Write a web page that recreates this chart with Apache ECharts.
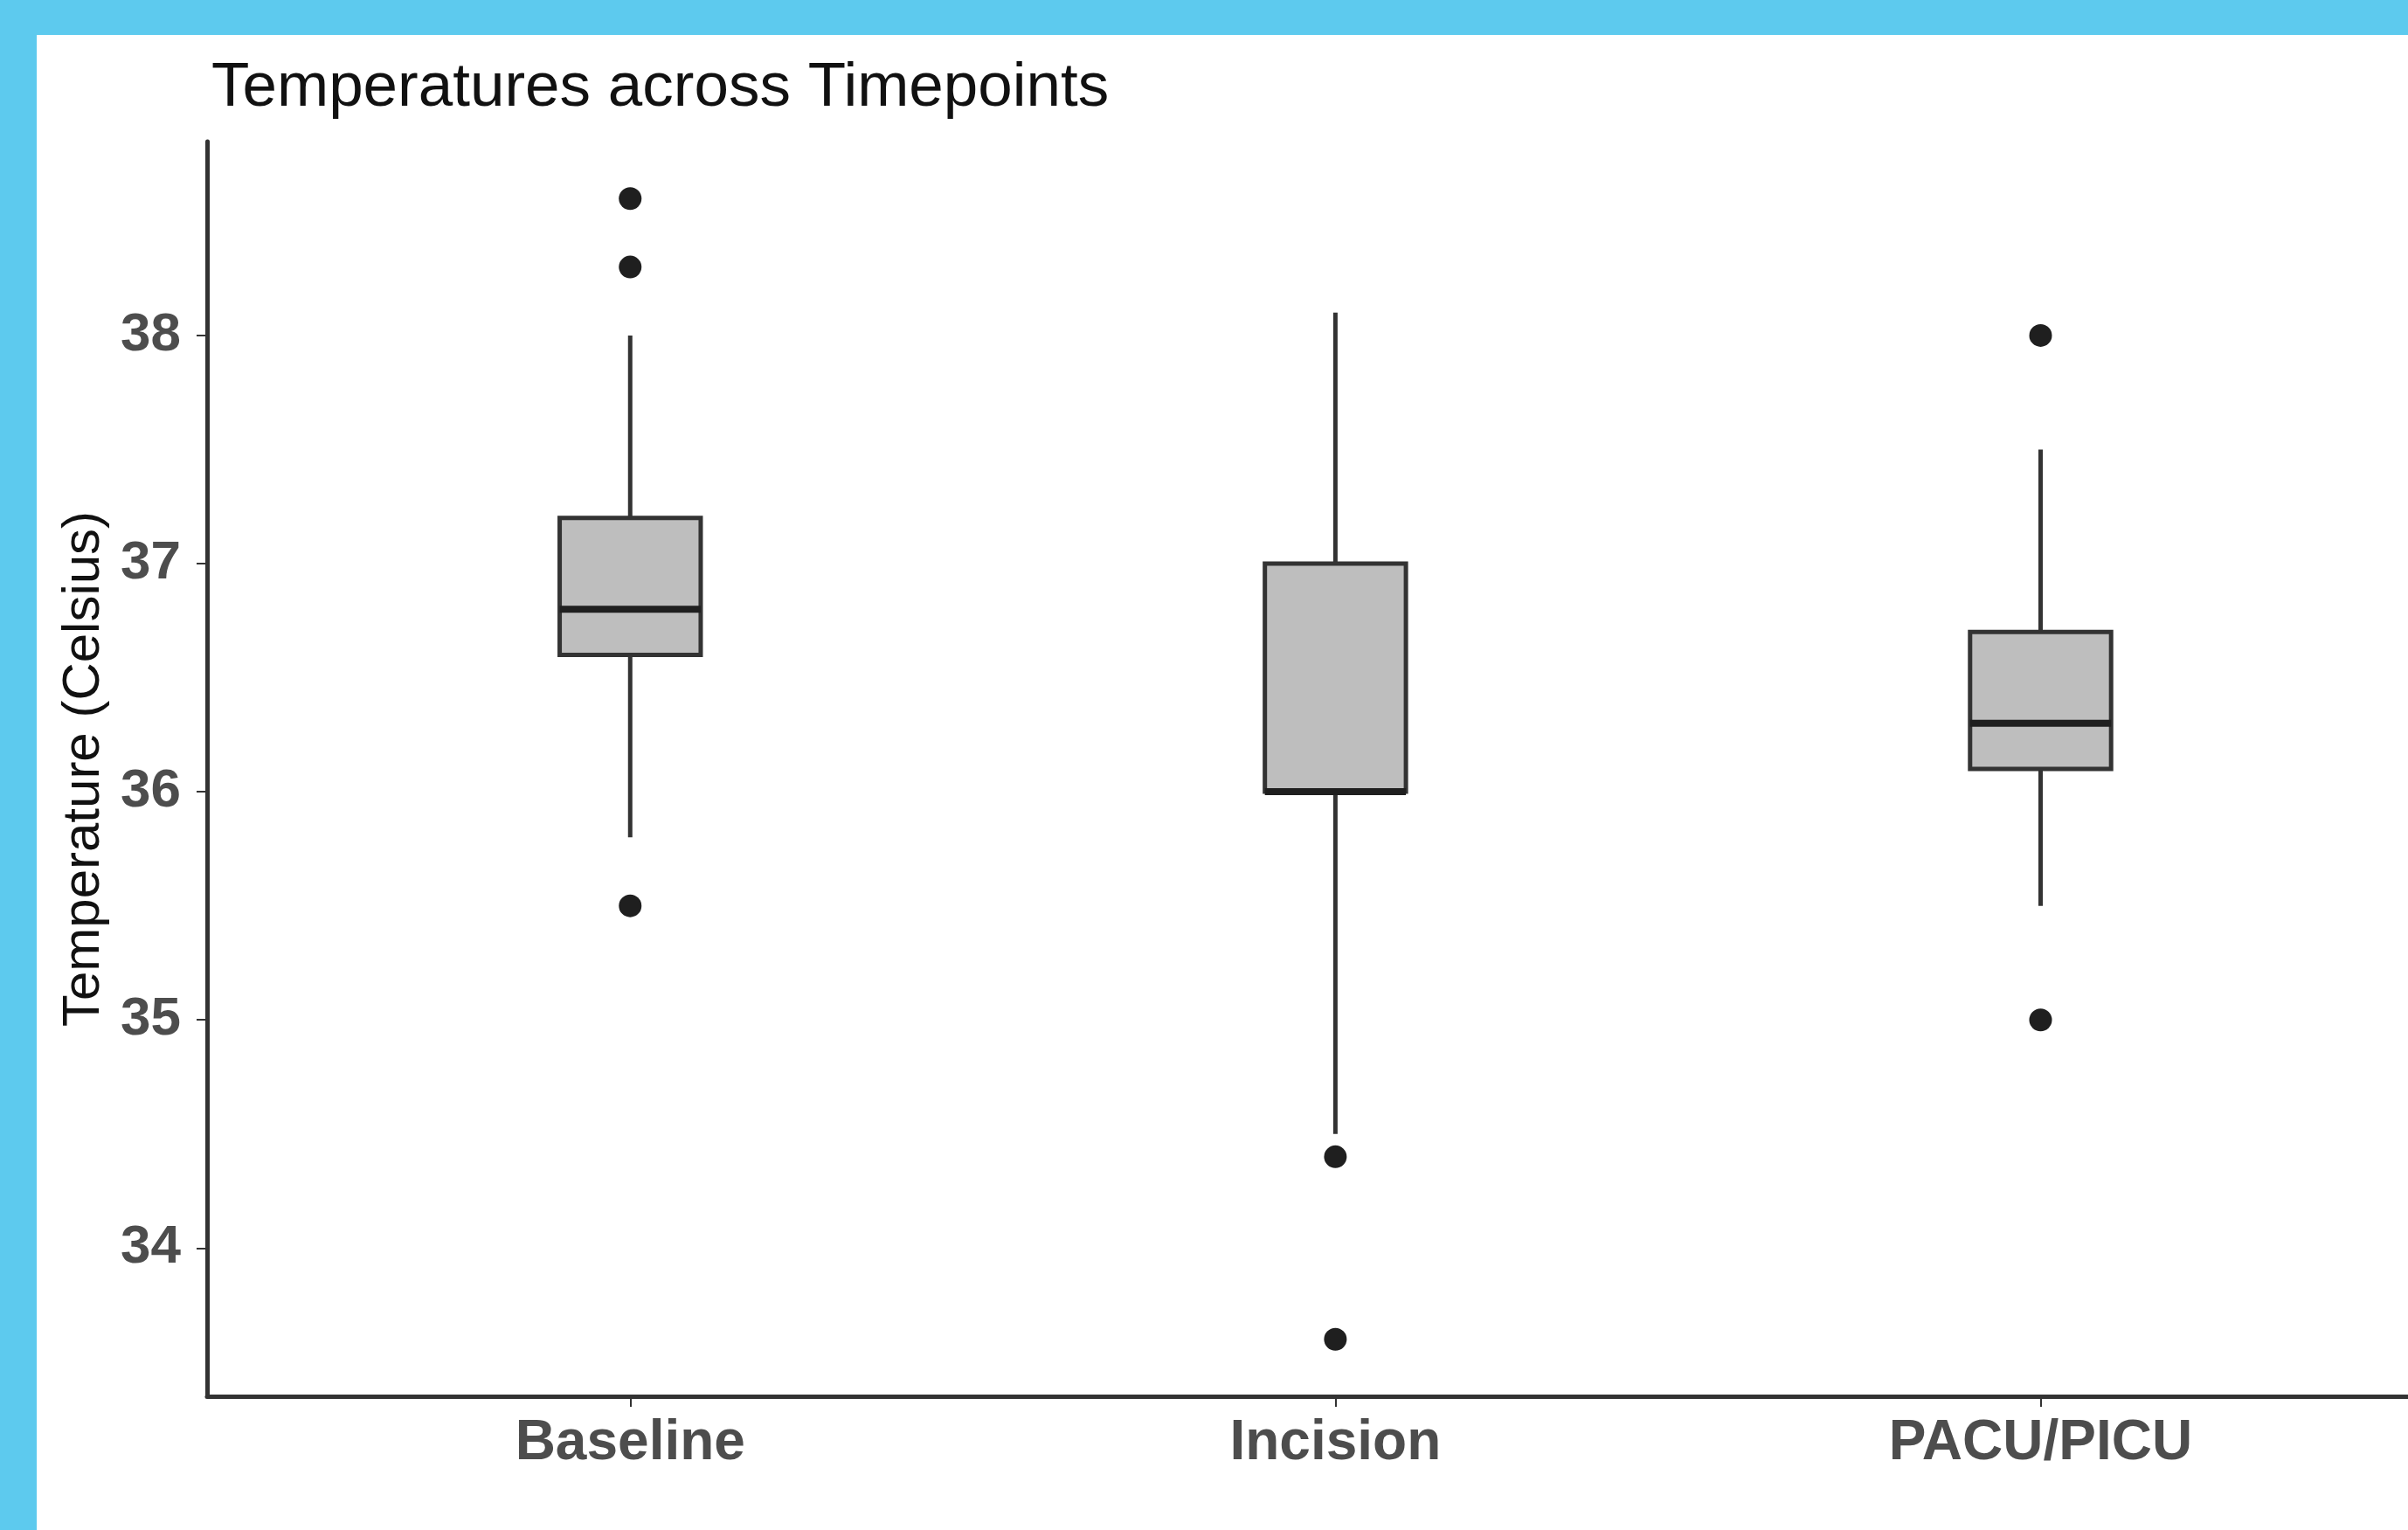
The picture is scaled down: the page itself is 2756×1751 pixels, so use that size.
<!DOCTYPE html>
<html>
<head>
<meta charset="utf-8">
<script src="https://cdn.jsdelivr.net/npm/echarts@6/dist/echarts.min.js"></script>
<style>
  html, body { margin: 0; padding: 0; width: 2756px; height: 1751px; background: #5DCAEE; overflow: hidden; }
  #chart { position: absolute; left: 42px; top: 40px; width: 2714px; height: 1711px; background: #ffffff; }
</style>
</head>
<body>
<div id="chart"></div>
<script>
// ---- data ----
const categories = ['Baseline', 'Incision', 'PACU/PICU'];
const categoryPositions = [1, 2, 3];
// [lower whisker, Q1, median, Q3, upper whisker]
const baselineStats = [35.8, 36.6, 36.8, 37.2, 38.0];
const incisionStats = [34.5, 36.0, 36.0, 37.0, 38.1];
const pacuStats = [35.5, 36.1, 36.3, 36.7, 37.5];
const baselineOutliers = [38.6, 38.3, 35.5];
const incisionOutliers = [34.4, 33.6];
const pacuOutliers = [38.0, 35.0];
const yTicks = [34, 35, 36, 37, 38];
const chartTitle = 'Temperatures across Timepoints';
const yAxisTitle = 'Temperature (Celsius)';

// ---- build series data ----
const allStats = [baselineStats, incisionStats, pacuStats];
const allOutliers = [baselineOutliers, incisionOutliers, pacuOutliers];
const boxData = allStats.map((s, i) => [categoryPositions[i]].concat(s));
const outlierData = [];
allOutliers.forEach((arr, i) => arr.forEach(v => outlierData.push([categoryPositions[i], v])));

const BOX_WIDTH = 0.2; // in x-axis units
const FONT = '"Liberation Sans", Arial, Helvetica, sans-serif';

const chart = echarts.init(document.getElementById('chart'), null, { renderer: 'canvas' });

chart.setOption({
  animation: false,
  backgroundColor: '#ffffff',
  title: {
    text: chartTitle,
    left: 195,
    top: 21,
    textStyle: { fontFamily: FONT, fontSize: 71, fontWeight: 'normal', color: '#111111' }
  },
  grid: { left: 195, right: 0, top: 122, bottom: 153, containLabel: false },
  xAxis: {
    type: 'value',
    min: 0.4,
    max: 3.521,
    splitLine: { show: false },
    axisLine: { show: true, onZero: false, lineStyle: { color: '#333333', width: 5 } },
    axisTick: { show: true, customValues: categoryPositions, length: 12, lineStyle: { color: '#333333', width: 2 } },
    axisLabel: {
      customValues: categoryPositions,
      formatter: v => categories[Math.round(v) - 1] || '',
      margin: 22,
      fontFamily: FONT, fontSize: 64, fontWeight: 'bold', color: '#4D4D4D'
    }
  },
  yAxis: {
    type: 'value',
    min: 33.35,
    max: 38.85,
    name: yAxisTitle,
    nameLocation: 'middle',
    nameGap: 111,
    nameRotate: 90,
    nameTextStyle: { fontFamily: FONT, fontSize: 60, color: '#111111' },
    splitLine: { show: false },
    axisLine: { show: true, onZero: false, lineStyle: { color: '#333333', width: 5 } },
    axisTick: { show: true, customValues: yTicks, length: 12, lineStyle: { color: '#333333', width: 2 } },
    axisLabel: {
      customValues: yTicks,
      margin: 30,
      fontFamily: FONT, fontSize: 62, fontWeight: 'bold', color: '#4D4D4D'
    }
  },
  series: [
    {
      type: 'custom',
      data: boxData,
      encode: { x: 0, y: [1, 2, 3, 4, 5] },
      renderItem: function (params, api) {
        const x = api.value(0);
        const low = api.coord([x, api.value(1)]);
        const q1 = api.coord([x, api.value(2)]);
        const med = api.coord([x, api.value(3)]);
        const q3 = api.coord([x, api.value(4)]);
        const high = api.coord([x, api.value(5)]);
        const halfW = api.size([BOX_WIDTH, 0])[0] / 2;
        const cx = q1[0];
        const stroke = '#333333';
        return {
          type: 'group',
          children: [
            { type: 'line', shape: { x1: cx, y1: high[1], x2: cx, y2: q3[1] }, style: { stroke: stroke, lineWidth: 5 } },
            { type: 'line', shape: { x1: cx, y1: q1[1], x2: cx, y2: low[1] }, style: { stroke: stroke, lineWidth: 5 } },
            { type: 'rect', shape: { x: cx - halfW, y: q3[1], width: halfW * 2, height: q1[1] - q3[1] },
              style: { fill: '#BEBEBE', stroke: stroke, lineWidth: 5 } },
            { type: 'line', shape: { x1: cx - halfW, y1: med[1], x2: cx + halfW, y2: med[1] }, style: { stroke: '#1F1F1F', lineWidth: 8 } }
          ]
        };
      }
    },
    {
      type: 'scatter',
      data: outlierData,
      symbol: 'circle',
      symbolSize: 26,
      itemStyle: { color: '#1F1F1F', opacity: 1 }
    }
  ]
});
</script>
</body>
</html>
